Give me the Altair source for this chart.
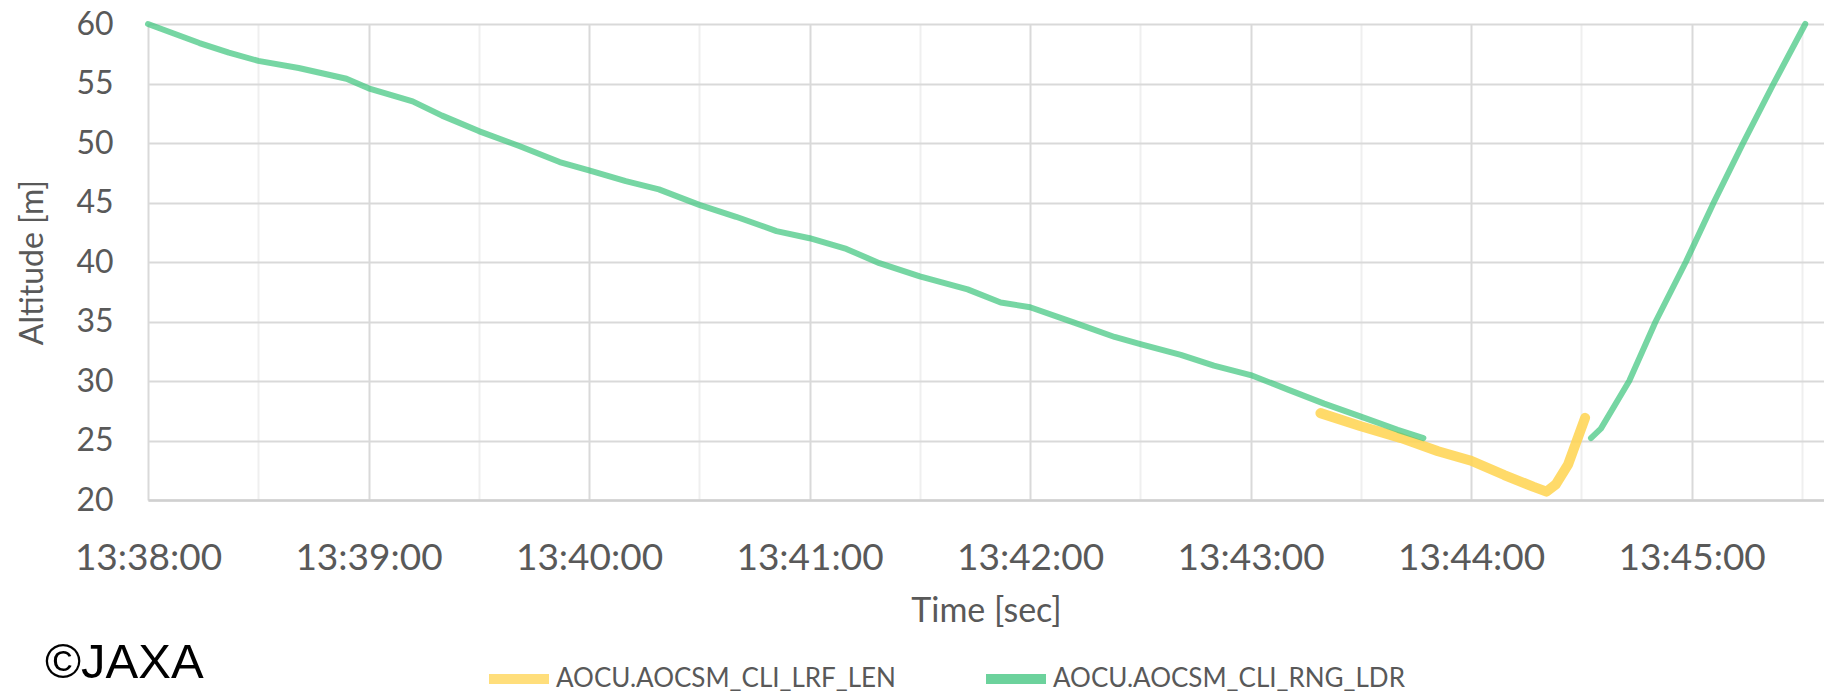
import altair as alt
import pandas as pd

DAY = "2019-07-11T"

# Series 1 (yellow): AOCU.AOCSM_CLI_LRF_LEN
lrf_times = ["13:43:19", "13:43:30", "13:43:41", "13:43:51", "13:44:00", "13:44:09",
             "13:44:17", "13:44:20.5", "13:44:23", "13:44:26.4", "13:44:31"]
lrf_vals = [27.3, 26.2, 25.2, 24.1, 23.3, 22.1, 21.1, 20.7, 21.3, 23.0, 26.9]

# Series 2 (green): AOCU.AOCSM_CLI_RNG_LDR, two separate segments
ldr1_times = ["13:38:00", "13:38:07", "13:38:14", "13:38:22", "13:38:30", "13:38:41",
              "13:38:54", "13:39:00", "13:39:12", "13:39:20", "13:39:30", "13:39:41",
              "13:39:52", "13:40:00", "13:40:10", "13:40:19", "13:40:30", "13:40:40",
              "13:40:51", "13:41:00", "13:41:10", "13:41:19", "13:41:30", "13:41:43",
              "13:41:52", "13:42:00", "13:42:12", "13:42:23", "13:42:30", "13:42:41",
              "13:42:50", "13:43:00", "13:43:10", "13:43:20", "13:43:30", "13:43:40",
              "13:43:47"]
ldr1_vals = [60.0, 59.2, 58.4, 57.6, 56.9, 56.3, 55.4, 54.6, 53.5, 52.3, 51.0, 49.75,
             48.4, 47.7, 46.8, 46.1, 44.8, 43.8, 42.6, 42.0, 41.1, 39.9, 38.8, 37.7,
             36.6, 36.2, 34.9, 33.7, 33.1, 32.2, 31.3, 30.5, 29.3, 28.1, 27.0, 25.9,
             25.2]
ldr2_times = ["13:44:32.6", "13:44:35.3", "13:44:43.0", "13:44:50.2", "13:44:58.4",
              "13:45:06.0", "13:45:14.0", "13:45:22.3", "13:45:30.9"]
ldr2_vals = [25.2, 26.0, 30.0, 35.0, 40.0, 45.0, 50.0, 55.0, 60.0]

series_names = ["AOCU.AOCSM_CLI_LRF_LEN", "AOCU.AOCSM_CLI_RNG_LDR"]
series_colors = ["#FFD34F", "#3CC47C"]

y_ticks = [20, 25, 30, 35, 40, 45, 50, 55, 60]
credit = ["©JAXA"]

FONT = "Lato"
GRAY = "#595959"


def dt(h, m, s):
    return alt.DateTime(year=2019, month=7, date=11, hours=h, minutes=m, seconds=s)


x_tick_values = []
for m in range(38, 46):
    for s in (0, 30):
        x_tick_values.append(dt(13, m, s))

lrf_df = pd.DataFrame({"t": [DAY + t for t in lrf_times], "v": lrf_vals,
                       "series": series_names[0], "seg": 0})
ldr_df = pd.DataFrame({
    "t": [DAY + t for t in ldr1_times] + [DAY + t for t in ldr2_times],
    "v": ldr1_vals + ldr2_vals,
    "series": series_names[1],
    "seg": [1] * len(ldr1_times) + [2] * len(ldr2_times),
})

x_enc = alt.X(
    "t:T",
    scale=alt.Scale(domain=[dt(13, 38, 0), dt(13, 45, 36)]),
    axis=alt.Axis(
        values=x_tick_values,
        format="%H:%M:%S",
        labelExpr="seconds(datum.value) == 0 ? datum.label : ''",
        labelFlush=False,
        labelOverlap=False,
        labelBound=False,
        labelFont=FONT,
        labelFontSize=37,
        labelColor=GRAY,
        labelPadding=40,
        ticks=False,
        domain=True,
        domainColor="#d0d0d0",
        domainWidth=2.5,
        grid=True,
        gridColor={"condition": {"test": "seconds(datum.value) == 0", "value": "#d9d9d9"},
                   "value": "#efefef"},
        gridWidth=2,
        title="Time [sec]",
        titleFont=FONT,
        titleFontSize=34,
        titleFontWeight="normal",
        titleColor=GRAY,
        titleBaseline="middle",
        titleY=111,
    ),
)

y_enc = alt.Y(
    "v:Q",
    scale=alt.Scale(domain=[20, 60], nice=False, zero=False),
    axis=alt.Axis(
        values=y_ticks,
        labelFont=FONT,
        labelFontSize=32,
        labelColor=GRAY,
        labelPadding=35,
        ticks=False,
        domain=False,
        grid=True,
        gridColor="#d9d9d9",
        gridWidth=2,
        title="Altitude [m]",
        titleFont=FONT,
        titleFontSize=32,
        titleFontWeight="normal",
        titleColor=GRAY,
        titleBaseline="middle",
        titleAlign="center",
        titleX=-116,
        titleY=238,
    ),
)

color_enc = alt.Color(
    "series:N",
    scale=alt.Scale(domain=series_names, range=series_colors),
    legend=alt.Legend(
        orient="none",
        direction="horizontal",
        legendX=336,
        legendY=620,
        title=None,
        symbolType="stroke",
        symbolSize=3600,
        symbolStrokeWidth=10,
        symbolOpacity=0.75,
        labelFont=FONT,
        labelFontSize=26,
        labelColor=GRAY,
        labelOffset=2,
        labelLimit=0,
        columnPadding=70,
        padding=0,
    ),
)

yellow = alt.Chart(lrf_df).mark_line(
    strokeWidth=10, opacity=0.85, strokeCap="round", strokeJoin="round"
).encode(x=x_enc, y=y_enc, color=color_enc, detail="seg:N")

green = alt.Chart(ldr_df).mark_line(
    strokeWidth=6, opacity=0.7, strokeCap="round", strokeJoin="round"
).encode(x=x_enc, y=y_enc, color=color_enc, detail="seg:N")

credit_text = alt.Chart(pd.DataFrame({"label": credit})).mark_text(
    font="Liberation Sans", fontSize=49, align="left", baseline="alphabetic",
    color="black"
).encode(text="label:N", x=alt.value(-103), y=alt.value(654))

chart = alt.layer(yellow, green, credit_text).properties(
    width=1676,
    height=476,
    autosize=alt.AutoSizeParams(type="none"),
    padding={"left": 140, "top": 16, "right": 0, "bottom": 196},
).configure_view(stroke=None)

chart.save("out.html", embed_options={"renderer": "svg", "actions": False})
